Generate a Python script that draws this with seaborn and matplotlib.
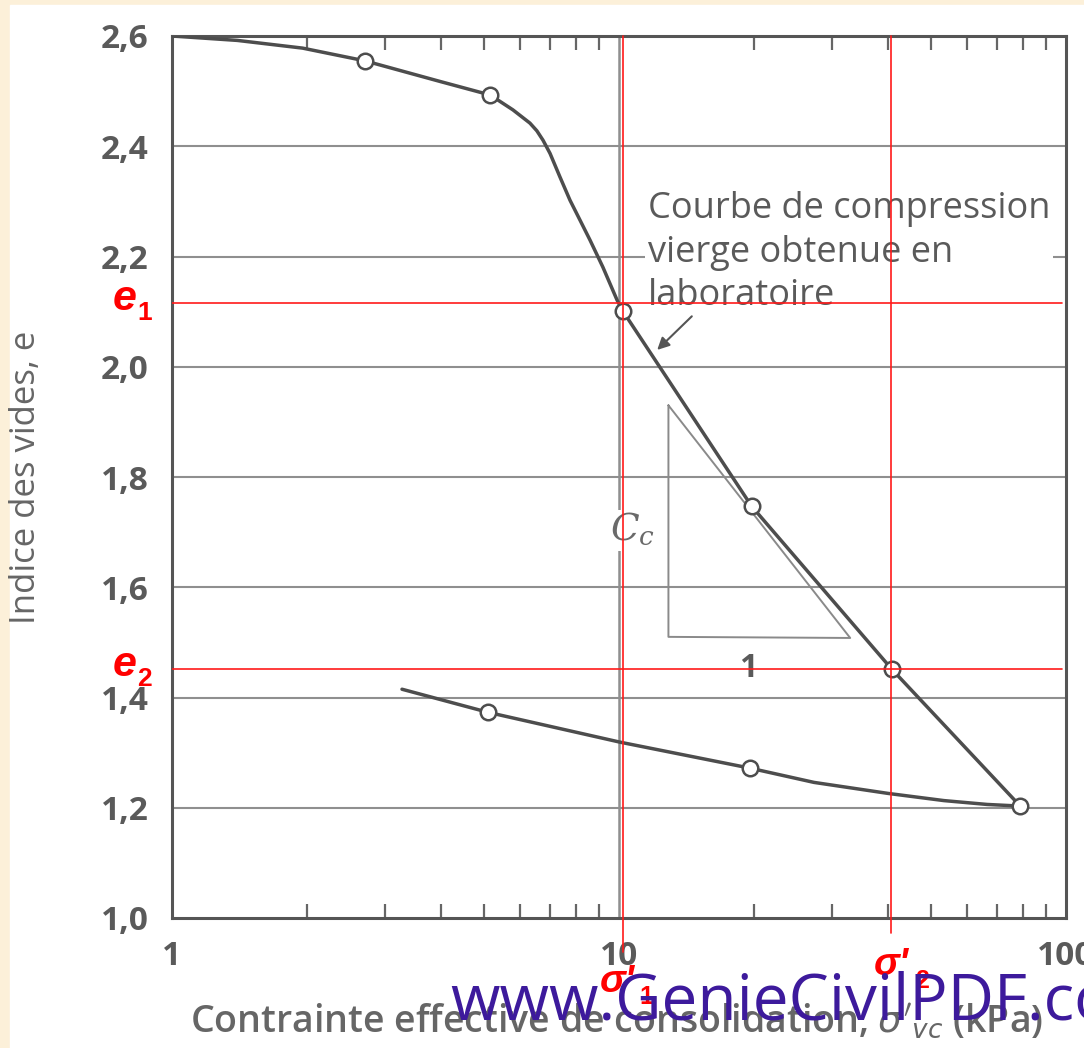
import matplotlib
matplotlib.use('Agg')
import matplotlib.pyplot as plt
from matplotlib.ticker import FixedLocator, FixedFormatter, LogLocator, NullFormatter
from matplotlib.patches import Rectangle
import seaborn as sns

sns.set_style('white')
plt.rcParams['font.family'] = ['Open Sans', 'DejaVu Sans']

# Courbe de chargement
charge_sigma = [1.0, 1.4, 1.96, 2.7, 4.0, 5.15, 5.79, 6.32, 6.55, 6.76, 7.01, 7.38, 7.77,
                8.18, 8.61, 9.2, 9.9, 10.2, 19.8, 40.8, 79.0]
charge_e = [2.600, 2.592, 2.578, 2.555, 2.517, 2.493, 2.466, 2.442, 2.428, 2.411, 2.387, 2.344, 2.302,
            2.266, 2.230, 2.181, 2.121, 2.101, 1.747, 1.451, 1.203]

# Courbe de déchargement
decharge_sigma = [3.27, 5.1, 10.05, 19.6, 27.3, 40.0, 53.3, 66.6, 79.0]
decharge_e = [1.415, 1.373, 1.319, 1.272, 1.246, 1.226, 1.213, 1.206, 1.203]

# Points d'essai (cercles)
pts_sigma = [2.7, 5.15, 10.2, 19.8, 40.8, 79.0, 5.1, 19.6]
pts_e = [2.555, 2.493, 2.101, 1.747, 1.451, 1.203, 1.373, 1.272]

y_ticks = [1.0, 1.2, 1.4, 1.6, 1.8, 2.0, 2.2, 2.4, 2.6]
y_labels = ['1,0', '1,2', '1,4', '1,6', '1,8', '2,0', '2,2', '2,4', '2,6']
x_ticks = [1, 10, 100]
x_labels = ['1', '10', '100']

# triangle de pente Cc
tri_sigma = [12.9, 12.9, 32.9, 12.9]
tri_e = [1.930, 1.510, 1.508, 1.930]

# surcharge rouge
sigma1, sigma2 = 10.2, 40.7
e1, e2 = 2.115, 1.451

gris = '#4d4d4d'
gris_txt = '#5a5a5a'
rouge = '#ff1a1a'

fig = plt.figure(figsize=(10.84, 10.48), dpi=100, facecolor='#fcf0d9')
fig.patches.append(Rectangle((0.009, 0), 1, 0.995, transform=fig.transFigure,
                             color='white', zorder=-10))
ax = fig.add_axes([172/1084, 1 - 918/1048, 894/1084, 882/1048])
ax.set_xscale('log')
ax.set_xlim(1, 100)
ax.set_ylim(1.0, 2.6)

# grille
for y in y_ticks[1:-1]:
    ax.axhline(y, color='#8f8f8f', lw=1.5, zorder=1)
ax.axvline(10, color='#8f8f8f', lw=1.8, zorder=1)

sns.lineplot(x=charge_sigma, y=charge_e, sort=False, estimator=None,
             color=gris, lw=2.5, ax=ax, zorder=3)
sns.lineplot(x=decharge_sigma, y=decharge_e, sort=False, estimator=None,
             color=gris, lw=2.5, ax=ax, zorder=3)
sns.scatterplot(x=pts_sigma, y=pts_e, marker='o', s=125, facecolor='white',
                edgecolor=gris, linewidth=1.8, ax=ax, zorder=4)

ax.plot(tri_sigma, tri_e, color='#8a8a8a', lw=1.4, zorder=2)
ax.text(10.7, 1.703, r'$C_c$', fontsize=27, color='#6a6a6a', ha='center', va='center',
        math_fontfamily='dejavuserif', zorder=2,
        bbox=dict(facecolor='white', edgecolor='none', pad=1))
ax.text(19.5, 1.453, '1', fontsize=23, fontweight='bold', color=gris_txt,
        ha='center', va='center', zorder=2)

ax.text(11.6, 2.207, 'Courbe de compression\nvierge obtenue en\nlaboratoire',
        fontsize=26, color=gris_txt, ha='left', va='center', linespacing=1.28, zorder=2,
        bbox=dict(facecolor='white', edgecolor='none', pad=2))
ax.annotate('', xy=(12.05, 2.027), xytext=(14.7, 2.095),
            arrowprops=dict(arrowstyle='-|>', color='#555555', lw=1.5, mutation_scale=18),
            zorder=3)

# axes
ax.yaxis.set_major_locator(FixedLocator(y_ticks))
ax.yaxis.set_major_formatter(FixedFormatter(y_labels))
ax.xaxis.set_major_locator(FixedLocator(x_ticks))
ax.xaxis.set_major_formatter(FixedFormatter(x_labels))
ax.xaxis.set_minor_locator(LogLocator(base=10, subs=[2, 3, 4, 5, 6, 7, 8, 9]))
ax.xaxis.set_minor_formatter(NullFormatter())
ax.tick_params(axis='both', which='major', length=0, labelsize=24, labelcolor=gris_txt)
ax.tick_params(axis='y', pad=17)
ax.tick_params(axis='x', pad=16)
ax.tick_params(axis='x', which='minor', direction='in', length=10, width=1.6,
               color='#666666', top=True, bottom=True)
for lab in ax.get_xticklabels() + ax.get_yticklabels():
    lab.set_fontweight('bold')
for sp in ax.spines.values():
    sp.set_color('#555555')
    sp.set_linewidth(2.2)

ax.set_ylabel('Indice des vides, e', fontsize=25, color='#666666')
ax.yaxis.set_label_coords(-0.144, 0.5)
ax.set_xlabel("Contrainte effective de consolidation, $\\sigma'_{vc}$ (kPa)",
              fontsize=27, color='#666666', fontweight='semibold')
ax.xaxis.set_label_coords(0.497, -0.095)

# surcharge rouge
ax.axhline(e1, xmax=0.996, color=rouge, lw=1.2, zorder=6)
ax.axhline(e2, xmax=0.996, color=rouge, lw=1.2, zorder=6)
ax.plot([sigma1, sigma1], [0.938, 2.6], color=rouge, lw=1.2, zorder=6, clip_on=False)
ax.plot([sigma2, sigma2], [0.972, 2.6], color=rouge, lw=1.2, zorder=6, clip_on=False)

red_font = dict(color='#ff0000', fontweight='bold', family='Liberation Sans',
                annotation_clip=False, zorder=7)
for ev, sub in [(e1, '1'), (e2, '2')]:
    ax.annotate('e', xy=(0, ev), xycoords=('axes fraction', 'data'), xytext=(-34, 3),
                textcoords='offset points', fontsize=31, fontstyle='italic',
                ha='center', va='center', **red_font)
    ax.annotate(sub, xy=(0, ev), xycoords=('axes fraction', 'data'), xytext=(-20, -7),
                textcoords='offset points', fontsize=19, ha='center', va='center', **red_font)
for sv, sub, dx, dy, sdx, sdy in [(sigma1, '1', -4, -46, 17, -57),
                                  (sigma2, '2', 0, -34, 22, -45)]:
    ax.annotate("σ'", xy=(sv, 0), xycoords=('data', 'axes fraction'), xytext=(dx, dy),
                textcoords='offset points', fontsize=28, fontstyle='italic',
                ha='center', va='center', **red_font)
    ax.annotate(sub, xy=(sv, 0), xycoords=('data', 'axes fraction'), xytext=(sdx, sdy),
                textcoords='offset points', fontsize=18, ha='center', va='center', **red_font)

# filigrane
fig.text(450/1084, 1 - 1020/1048, 'www.GenieCivilPDF.com', fontsize=46,
         color='#3d1a9c', family=['Open Sans', 'DejaVu Sans'], ha='left',
         va='baseline', zorder=10)

fig.savefig('out.png', dpi=100, facecolor=fig.get_facecolor())
